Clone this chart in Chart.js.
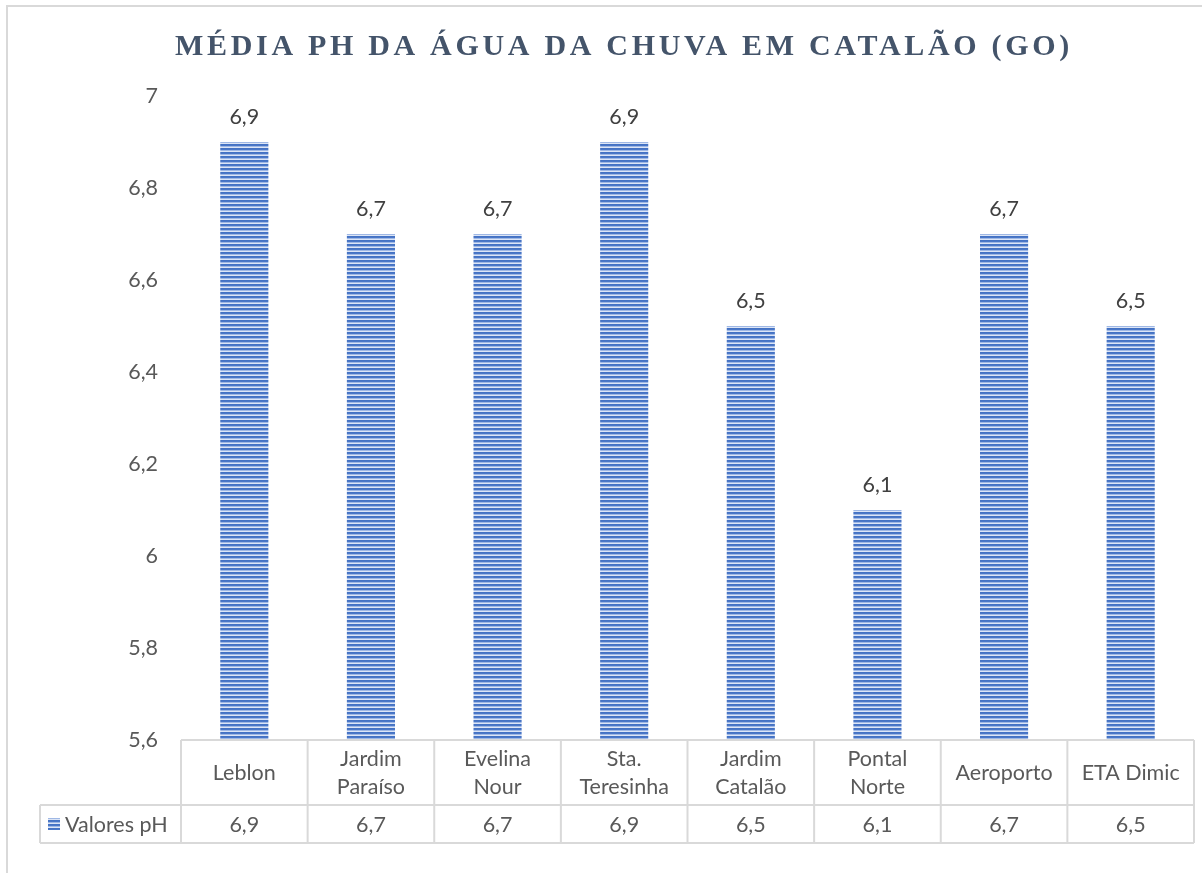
<!DOCTYPE html>
<html><head><meta charset="utf-8">
<script src="https://cdn.jsdelivr.net/npm/chart.js@4"></script>
<style>html,body{margin:0;padding:0;background:#fff}#wrap{width:1202px;height:873px;position:relative}canvas{display:block}</style>
</head><body><div id="wrap"><canvas id="c" width="1202" height="873"></canvas></div>
<script>
const chartTitle = "MÉDIA PH DA ÁGUA DA CHUVA EM CATALÃO (GO)";
const categories = [["Leblon"],["Jardim","Paraíso"],["Evelina","Nour"],["Sta.","Teresinha"],["Jardim","Catalão"],["Pontal","Norte"],["Aeroporto"],["ETA Dimic"]];
const seriesName = "Valores pH";
const phValues = [6.9, 6.7, 6.7, 6.9, 6.5, 6.1, 6.7, 6.5];
const yMin = 5.6, yMax = 7, yStep = 0.2;

const fmt = v => (Math.round(v*10)/10).toString().replace('.', ',');
const FONT = 'Lato, "Open Sans", sans-serif';
const FS = 21.5;
const TXT = '#595959';
const GRID = '#d9d9d9';

const canvas = document.getElementById('c');
const ctx0 = canvas.getContext('2d');
function stripePattern(ctx){
  const c = document.createElement('canvas'); c.width = 8; c.height = 4;
  const g = c.getContext('2d');
  ['#4472c4','#4a77c7','#9fb8e5','#dce5f6'].forEach((col,i)=>{g.fillStyle=col; g.fillRect(0,i,8,1);});
  return ctx.createPattern(c,'repeat');
}
const pattern = stripePattern(ctx0);

const tablePlugin = {
  id: 'tablePlugin',
  beforeDraw(chart){
    const ctx = chart.ctx;
    ctx.save();
    ctx.fillStyle = '#fff'; ctx.fillRect(0,0,chart.width,chart.height);
    ctx.strokeStyle = GRID; ctx.lineWidth = 2;
    ctx.beginPath(); ctx.moveTo(7, chart.height+5); ctx.lineTo(7,6); ctx.lineTo(chart.width+5,6); ctx.stroke();
    ctx.restore();
  },
  afterDatasetsDraw(chart){
    const ctx = chart.ctx, meta = chart.getDatasetMeta(0);
    ctx.save();
    ctx.font = FS + 'px ' + FONT; ctx.fillStyle = '#404040';
    ctx.textAlign = 'center'; ctx.textBaseline = 'middle';
    meta.data.forEach((bar,i)=>{ ctx.fillText(fmt(phValues[i]), bar.x, bar.y - 25); });
    ctx.restore();
  },
  afterDraw(chart){
    const ctx = chart.ctx, xs = chart.scales.x, area = chart.chartArea;
    const n = categories.length, cw = xs.width / n;
    const top = area.bottom, mid = top + 65, bot = mid + 38, legLeft = 40;
    ctx.save();
    // title
    ctx.font = 'bold 30px "Liberation Serif", "DejaVu Serif", serif';
    ctx.fillStyle = '#44546a'; ctx.textBaseline = 'alphabetic'; ctx.textAlign = 'left';
    const targetW = 898;
    const w0 = ctx.measureText(chartTitle).width;
    const sp = (targetW - w0) / chartTitle.length;
    ctx.letterSpacing = sp.toFixed(2) + 'px';
    ctx.fillText(chartTitle, 624 - targetW/2, 55);
    ctx.letterSpacing = '0px';
    // table grid
    ctx.strokeStyle = GRID; ctx.lineWidth = 2;
    ctx.beginPath();
    ctx.moveTo(xs.left, top); ctx.lineTo(xs.right, top);
    ctx.moveTo(legLeft, mid); ctx.lineTo(xs.right, mid);
    ctx.moveTo(legLeft, bot); ctx.lineTo(xs.right, bot);
    ctx.moveTo(legLeft, mid); ctx.lineTo(legLeft, bot);
    for(let i=0;i<=n;i++){ const x = xs.left + i*cw; ctx.moveTo(x, top); ctx.lineTo(x, bot); }
    ctx.stroke();
    // texts
    ctx.font = FS + 'px ' + FONT; ctx.fillStyle = TXT; ctx.textBaseline = 'middle'; ctx.textAlign = 'center';
    categories.forEach((lines,i)=>{
      const cx = xs.getPixelForValue(i), cy = (top+mid)/2 + 1, lh = 28;
      lines.forEach((t,j)=>{ ctx.fillText(t, cx, cy + (j - (lines.length-1)/2)*lh); });
      ctx.fillText(fmt(phValues[i]), cx, (mid+bot)/2 + 1);
    });
    // legend key
    const ky = (mid+bot)/2;
    ctx.fillStyle = pattern; ctx.fillRect(48, ky-6, 12, 12);
    ctx.fillStyle = TXT; ctx.textAlign = 'left';
    ctx.fillText(seriesName, 65, ky + 1);
    ctx.restore();
  }
};

new Chart(canvas, {
  type: 'bar',
  data: {
    labels: categories,
    datasets: [{ label: seriesName, data: phValues, backgroundColor: pattern, borderWidth: 0,
      categoryPercentage: 1, barPercentage: 0.38 }]
  },
  options: {
    responsive: false, animation: false, devicePixelRatio: 1,
    layout: { padding: { left: 0, right: 8, top: 96, bottom: 133 } },
    plugins: { legend: { display: false }, tooltip: { enabled: false }, title: { display: false } },
    scales: {
      x: { display: false, offset: true },
      y: {
        min: yMin, max: yMax,
        border: { display: false },
        grid: { display: false, drawTicks: false },
        ticks: { stepSize: yStep, padding: 23, color: TXT, font: { family: FONT, size: FS },
          callback: v => fmt(v) },
        afterFit: s => { s.width = 181; }
      }
    }
  },
  plugins: [tablePlugin]
});
</script>
</body></html>
